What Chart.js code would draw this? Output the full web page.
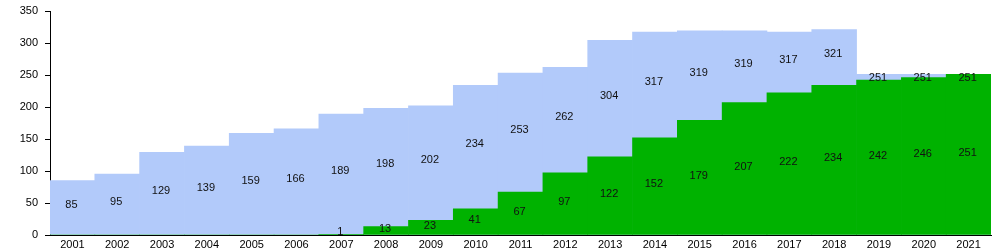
<!DOCTYPE html>
<html>
<head>
<meta charset="utf-8">
<script src="https://cdn.jsdelivr.net/npm/chart.js@4/dist/chart.umd.min.js"></script>
<style>
  html, body { margin: 0; padding: 0; background: #fff; }
  #wrap { width: 1008px; height: 250px; }
</style>
</head>
<body>
<div id="wrap"><canvas id="chart"></canvas></div>
<script>
// years on the x axis
const years = ["2001", "2002", "2003", "2004", "2005", "2006", "2007", "2008", "2009", "2010", "2011",
    "2012", "2013", "2014", "2015", "2016", "2017", "2018", "2019", "2020", "2021"];

// total (light blue) and the green part
const totalValues = [85, 95, 129, 139, 159, 166, 189, 198, 202, 234, 253, 262, 304, 317, 319, 319, 317, 321, 251, 251, 251];
const greenValues = [0, 0, 0, 0, 0, 0, 1, 13, 23, 41, 67, 97, 122, 152, 179, 207, 222, 234, 242, 246, 251];

// draw the numbers inside the bars
const barLabels = {
    id: 'barLabels',
    afterDatasetsDraw(chart) {
        const ctx = chart.ctx;
        const y = chart.scales.y;
        const x = chart.scales.x;
        ctx.save();
        ctx.font = '11px "Liberation Sans", Arial, sans-serif';
        ctx.textAlign = 'center';
        ctx.textBaseline = 'alphabetic';
        ctx.fillStyle = '#111';
        for (let i = 0; i < years.length; i++) {
            let cx = x.getPixelForValue(i) - 1;
            // blue part
            let mid = y.getPixelForValue((greenValues[i] + totalValues[i]) / 2);
            let top = y.getPixelForValue(totalValues[i]) + 7;
            ctx.fillText(String(totalValues[i]), cx, Math.max(mid, top));
            // green part
            if (greenValues[i] > 0) {
                let gmid = y.getPixelForValue(greenValues[i] / 2);
                ctx.fillText(String(greenValues[i]), cx, Math.min(gmid + 1, y.bottom));
            }
        }
        ctx.restore();
    }
};

Chart.defaults.font.family = '"Liberation Sans", Arial, sans-serif';
Chart.defaults.font.size = 11;
Chart.defaults.color = '#000';

new Chart(document.getElementById('chart'), {
    type: 'bar',
    data: {
        labels: years,
        datasets: [
            {
                label: 'green',
                data: greenValues,
                backgroundColor: '#00b200',
                order: 0
            },
            {
                label: 'total',
                data: totalValues,
                backgroundColor: '#b2cafa',
                order: 1
            }
        ]
    },
    options: {
        responsive: true,
        maintainAspectRatio: false,
        animation: false,
        layout: { padding: { left: 0, right: 17, top: 11, bottom: 0 } },
        plugins: {
            legend: { display: false },
            tooltip: { enabled: false }
        },
        datasets: {
            bar: { grouped: false, barPercentage: 1, categoryPercentage: 1, borderWidth: 0 }
        },
        scales: {
            x: {
                grid: { display: true, drawOnChartArea: false, drawTicks: false },
                border: { color: '#000', width: 1 },
                ticks: { padding: 3, maxRotation: 0, autoSkip: false },
                afterFit(scale) { scale.height = 15; }
            },
            y: {
                min: 0,
                max: 350,
                grid: { drawOnChartArea: false, tickLength: 5, color: '#000' },
                border: { color: '#000', width: 1 },
                ticks: { stepSize: 50, padding: 7 },
                afterFit(scale) {
                    scale.width = 50;
                    scale.paddingTop = 0;
                    scale.paddingBottom = 0;
                }
            }
        }
    },
    plugins: [barLabels]
});
</script>
</body>
</html>
